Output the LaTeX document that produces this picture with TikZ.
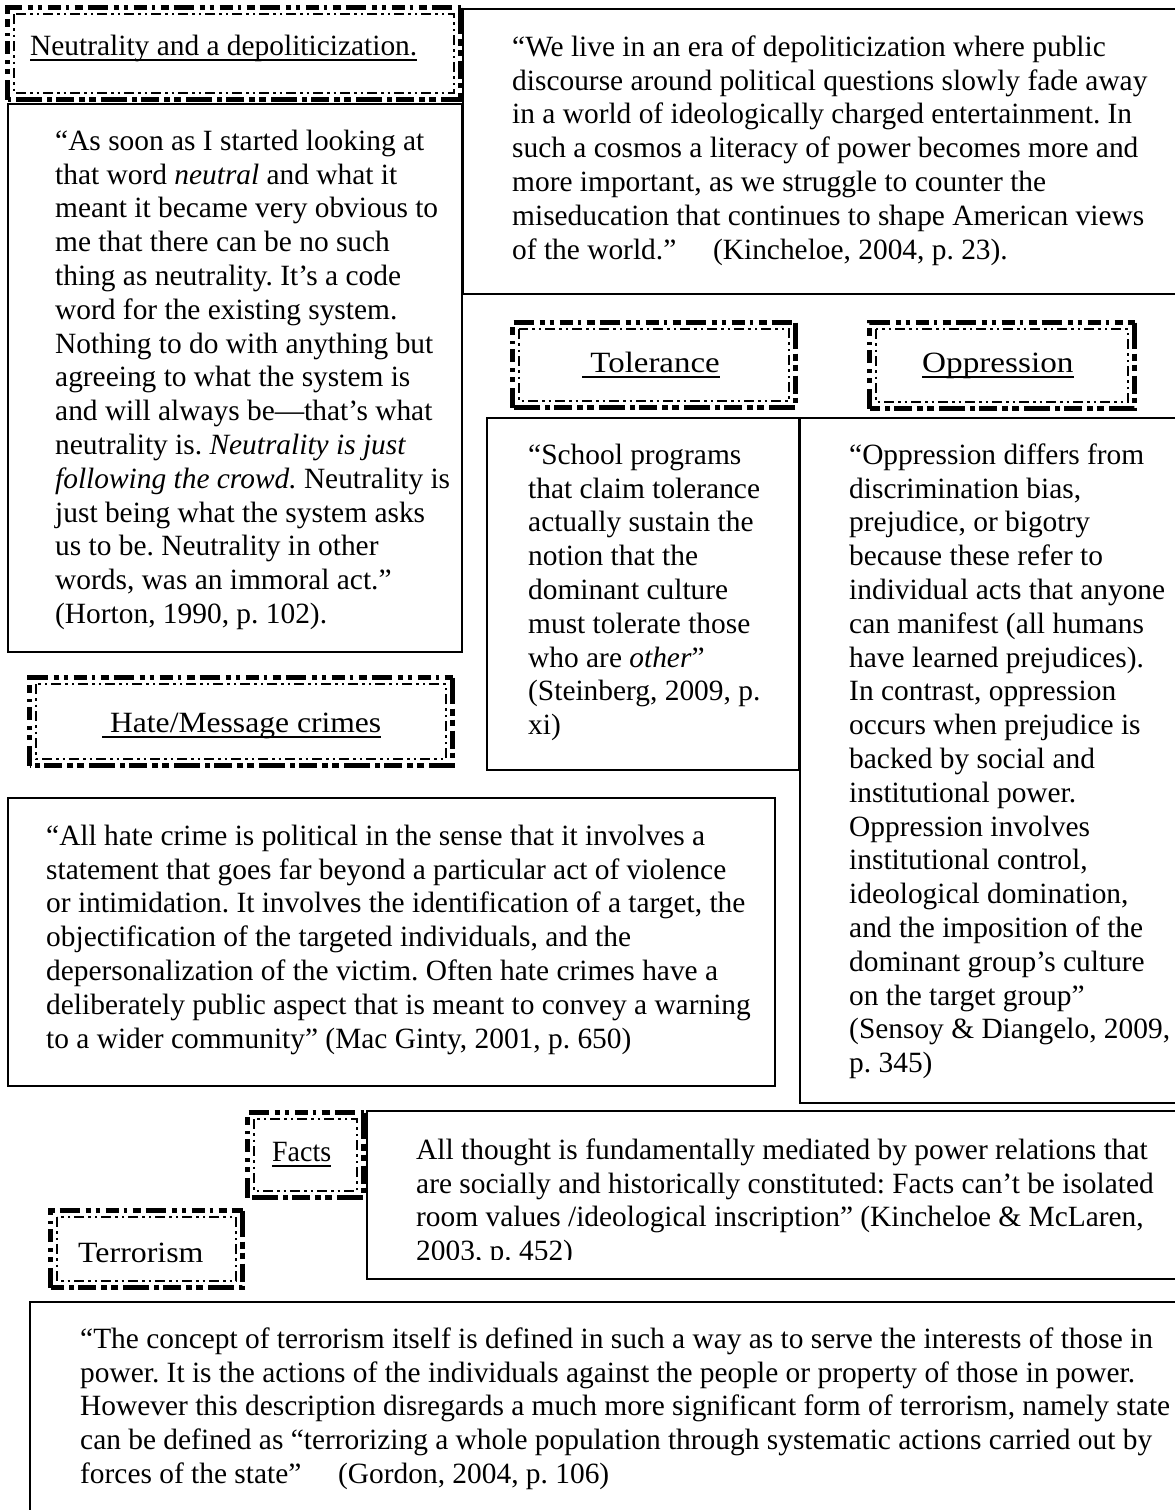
\documentclass[tikz,border=0pt]{standalone}
\usepackage{fontspec}
\usepackage{graphicx}
\setmainfont{Liberation Serif}
\frenchspacing
\newcommand\qsz{\fontsize{29.4}{33.8}\selectfont}
\newcommand\ulx[1]{\setbox0\hbox{#1}\rlap{\rule[-5.5pt]{\wd0}{1.8pt}}\box0}
\tikzset{
  qbox/.style={draw=black, line width=2.6pt},
  fouter/.style={draw=black, line width=5pt,
     dash pattern=on 20pt off 6pt on 5pt off 5pt on 4pt off 6pt on 13pt off 5pt on 3pt off 6pt on 8pt off 5pt},
  fouterb/.style={draw=black, line width=5.5pt,
     dash pattern=on 26pt off 5pt on 7pt off 4pt on 6pt off 5pt on 18pt off 4pt on 5pt off 5pt},
  finner/.style={draw=black, line width=1.6pt,
     dash pattern=on 10pt off 4pt on 2.5pt off 4pt on 2.5pt off 4pt},
  qtext/.style={anchor=north west, inner sep=0pt, align=left, font=\qsz},
  ltext/.style={anchor=base west, inner sep=0pt, font=\qsz},
}
\newcommand\fancyframe[4]{%
  \draw[fouter] (#1+2.5,#4-2.5) -- (#1+2.5,#2+2.5) -- (#3-2.5,#2+2.5);
  \draw[fouterb] (#3-2.75,#2+2.5) -- (#3-2.75,#4-2.75) -- (#1+2.5,#4-2.75);
  \draw[finner] (#1+9,#2+9) rectangle (#3-9,#4-9);}
\begin{document}
\begin{tikzpicture}[x=1pt,y=-1pt]
\clip (0,0) rectangle (1175,1510);
\fill[white] (0,0) rectangle (1175,1510);

% ---------- boxes ----------
\draw[qbox] (463,9) rectangle (1190,294);
\draw[qbox] (8,104) rectangle (462,652);
\draw[qbox] (487,418) rectangle (799,770);
\draw[qbox] (800,418) rectangle (1190,1103);
\draw[qbox] (8,798) rectangle (775,1086);
\draw[qbox] (367,1111) rectangle (1190,1279);
\draw[qbox] (30,1302) rectangle (1190,1530);

% ---------- label frames ----------
\fancyframe{5}{5}{463}{102}
\fancyframe{510}{320}{798}{410}
\fancyframe{867}{320}{1137}{411}
\fancyframe{27}{675}{455}{768}
\fancyframe{245}{1110}{366}{1200}
\fancyframe{48}{1208}{245}{1290}

% ---------- labels ----------
\node[ltext] (neutral) at (30,55) {\ulx{Neutrality and a depoliticization.}};
\node[ltext] (toler) at (582,372) {\ulx{\scalebox{1.12}[1]{\ Tolerance}}};
\node[ltext] (oppr) at (922,372) {\ulx{\scalebox{1.13}[1]{Oppression}}};
\node[ltext] (hate) at (102,732) {\ulx{\scalebox{1.075}[1]{\ Hate/Message crimes}}};
\node[ltext] (facts) at (272,1161) {\ulx{\scalebox{0.95}[1]{Facts}}};
\node[ltext] (terror) at (78,1262) {\scalebox{1.085}[1]{Terrorism}};

% ---------- quotes ----------
\node[qtext] (kinch) at (512,56-23.66) {\strut“We live in an era of depoliticization where public\\
discourse around political questions slowly fade away\\
in a world of ideologically charged entertainment. In\\
such a cosmos a literacy of power becomes more and\\
more important, as we struggle to counter the\\
miseducation that continues to shape American views\\
of the world.”\quad\ (Kincheloe, 2004, p. 23).};

\node[qtext] (horton) at (55,150-23.66) {\strut“As soon as I started looking at\\
that word \textit{neutral} and what it\\
meant it became very obvious to\\
me that there can be no such\\
thing as neutrality. It’s a code\\
word for the existing system.\\
Nothing to do with anything but\\
agreeing to what the system is\\
and will always be—that’s what\\
neutrality is. \textit{Neutrality is just}\\
\textit{following the crowd.} Neutrality is\\
just being what the system asks\\
us to be. Neutrality in other\\
words, was an immoral act.”\\
(Horton, 1990, p. 102).};

\node[qtext] (stein) at (528,464-23.66) {\strut“School programs\\
that claim tolerance\\
actually sustain the\\
notion that the\\
dominant culture\\
must tolerate those\\
who are \textit{other}”\\
(Steinberg, 2009, p.\\
xi)};

\node[qtext] (sensoy) at (849,464-23.66) {\strut“Oppression differs from\\
discrimination bias,\\
prejudice, or bigotry\\
because these refer to\\
individual acts that anyone\\
can manifest (all humans\\
have learned prejudices).\\
In contrast, oppression\\
occurs when prejudice is\\
backed by social and\\
institutional power.\\
Oppression involves\\
institutional control,\\
ideological domination,\\
and the imposition of the\\
dominant group’s culture\\
on the target group”\\
(Sensoy \& Diangelo, 2009,\\
p. 345)};

\node[qtext] (macginty) at (46,845-23.66) {\strut“All hate crime is political in the sense that it involves a\\
statement that goes far beyond a particular act of violence\\
or intimidation. It involves the identification of a target, the\\
objectification of the targeted individuals, and the\\
depersonalization of the victim. Often hate crimes have a\\
deliberately public aspect that is meant to convey a warning\\
to a wider community” (Mac Ginty, 2001, p. 650)};

\begin{scope}
\clip (367,1111) rectangle (1175,1259);
\node[qtext] (kmcl) at (416,1159-23.66) {\strut All thought is fundamentally mediated by power relations that\\
are socially and historically constituted: Facts can’t be isolated\\
room values /ideological inscription” (Kincheloe \& McLaren,\\
2003, p. 452)};
\end{scope}

\node[qtext] (gordon) at (80,1348-23.66) {\strut“The concept of terrorism itself is defined in such a way as to serve the interests of those in\\
power. It is the actions of the individuals against the people or property of those in power.\\
However this description disregards a much more significant form of terrorism, namely state\\
can be defined as “terrorizing a whole population through systematic actions carried out by\\
forces of the state”\quad\ (Gordon, 2004, p. 106)};
\end{tikzpicture}
\end{document}
